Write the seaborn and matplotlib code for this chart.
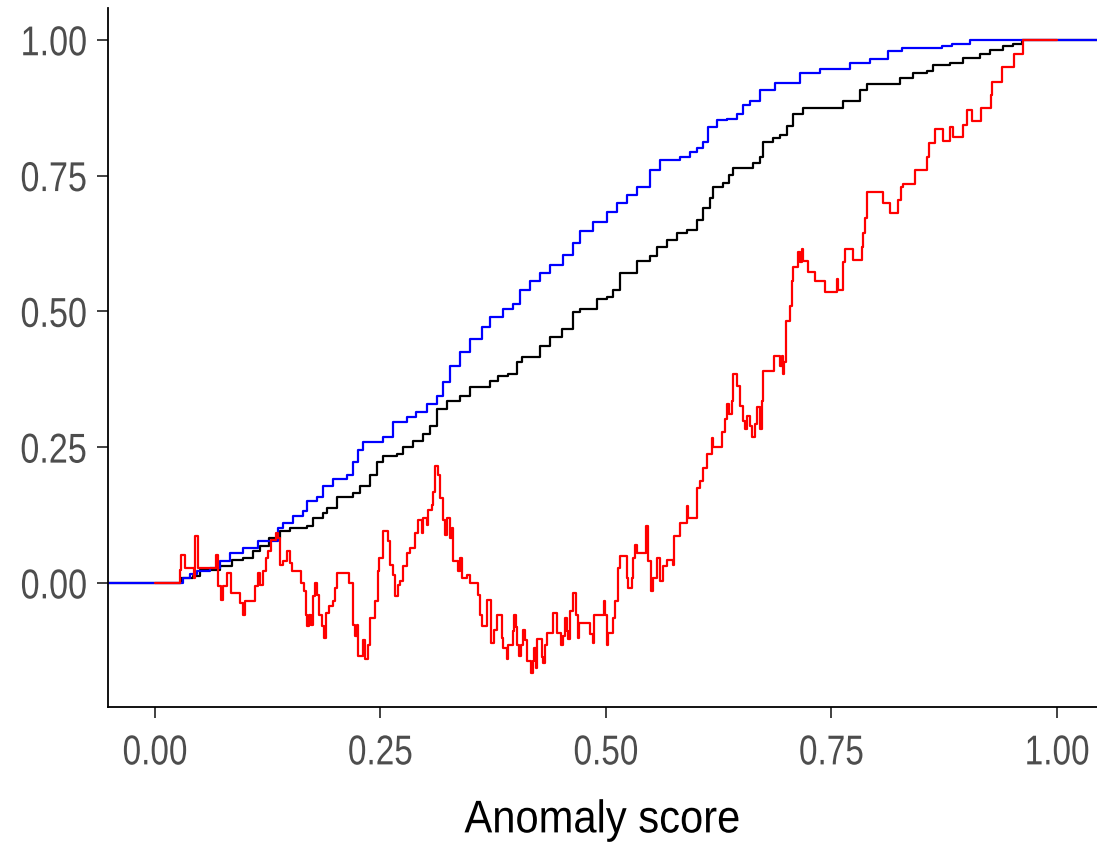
import matplotlib
matplotlib.use("Agg")
import matplotlib.pyplot as plt
import seaborn as sns
import pandas as pd
from matplotlib.patheffects import AbstractPathEffect
from matplotlib.transforms import Affine2D

# ---- data (step curves: value becomes y at x) ----
blue_x = [-0.06, 0.031, 0.039, 0.047, 0.061, 0.072, 0.083, 0.098, 0.114, 0.136, 0.142, 0.153, 0.164,
          0.169, 0.180, 0.186, 0.197, 0.213, 0.220, 0.225, 0.231, 0.253, 0.264, 0.279, 0.290, 0.302,
          0.313, 0.319, 0.327, 0.338, 0.349, 0.363, 0.371, 0.386, 0.397, 0.405, 0.416, 0.427, 0.438,
          0.452, 0.463, 0.471, 0.486, 0.501, 0.512, 0.523, 0.534, 0.549, 0.560, 0.582, 0.593, 0.601,
          0.608, 0.613, 0.623, 0.634, 0.645, 0.652, 0.660, 0.671, 0.687, 0.715, 0.737, 0.771, 0.793,
          0.813, 0.828, 0.873, 0.884, 0.904, 1.06]
blue_y = [0.0, 0.009, 0.016, 0.022, 0.027, 0.040, 0.055, 0.064, 0.077, 0.101, 0.110, 0.123, 0.132,
          0.150, 0.159, 0.178, 0.192, 0.198, 0.223, 0.244, 0.260, 0.269, 0.297, 0.306, 0.315, 0.330,
          0.344, 0.370, 0.399, 0.425, 0.449, 0.471, 0.489, 0.504, 0.513, 0.540, 0.555, 0.571, 0.586,
          0.604, 0.626, 0.647, 0.665, 0.683, 0.700, 0.714, 0.729, 0.760, 0.778, 0.784, 0.793, 0.800,
          0.811, 0.839, 0.852, 0.855, 0.864, 0.879, 0.888, 0.907, 0.921, 0.938, 0.947, 0.958, 0.965,
          0.980, 0.984, 0.989, 0.993, 1.0, 1.0]

black_x = [-0.06, 0.029, 0.042, 0.050, 0.072, 0.086, 0.098, 0.109, 0.116, 0.127, 0.139, 0.150, 0.169,
           0.175, 0.186, 0.191, 0.202, 0.220, 0.227, 0.238, 0.246, 0.253, 0.268, 0.275, 0.286, 0.297,
           0.305, 0.313, 0.324, 0.338, 0.349, 0.371, 0.380, 0.391, 0.401, 0.407, 0.427, 0.438, 0.451,
           0.463, 0.471, 0.490, 0.501, 0.508, 0.516, 0.534, 0.549, 0.557, 0.568, 0.579, 0.590, 0.601,
           0.608, 0.615, 0.619, 0.630, 0.637, 0.641, 0.663, 0.671, 0.674, 0.685, 0.693, 0.701, 0.707,
           0.718, 0.763, 0.782, 0.790, 0.826, 0.840, 0.856, 0.863, 0.881, 0.896, 0.915, 0.926, 0.940,
           0.951, 0.961, 1.06]
black_y = [0.0, 0.009, 0.013, 0.024, 0.031, 0.042, 0.046, 0.059, 0.068, 0.082, 0.095, 0.101, 0.104,
           0.119, 0.128, 0.137, 0.159, 0.165, 0.179, 0.198, 0.223, 0.233, 0.238, 0.251, 0.262, 0.275,
           0.288, 0.321, 0.335, 0.344, 0.361, 0.372, 0.381, 0.385, 0.407, 0.416, 0.436, 0.452, 0.467,
           0.498, 0.504, 0.522, 0.526, 0.540, 0.571, 0.592, 0.601, 0.619, 0.632, 0.645, 0.650, 0.668,
           0.690, 0.709, 0.729, 0.736, 0.751, 0.764, 0.773, 0.784, 0.811, 0.819, 0.824, 0.842, 0.864,
           0.875, 0.888, 0.907, 0.918, 0.930, 0.938, 0.943, 0.954, 0.958, 0.967, 0.973, 0.982, 0.989,
           0.993, 1.0, 1.0]

red_x = [0.0, 0.028, 0.029, 0.033, 0.043, 0.045, 0.048, 0.068, 0.070, 0.073, 0.075, 0.080, 0.084,
         0.094, 0.098, 0.100, 0.111, 0.114, 0.116, 0.120, 0.123, 0.125, 0.129, 0.134, 0.136, 0.139,
         0.142, 0.147, 0.150, 0.152, 0.162, 0.165, 0.167, 0.169, 0.171, 0.173, 0.175, 0.177, 0.180,
         0.182, 0.185, 0.187, 0.190, 0.193, 0.197, 0.200, 0.202, 0.215, 0.220, 0.222, 0.224, 0.225,
         0.231, 0.233, 0.236, 0.238, 0.244, 0.247, 0.249, 0.253, 0.258, 0.261, 0.264, 0.266, 0.269,
         0.272, 0.275, 0.279, 0.283, 0.288, 0.292, 0.296, 0.297, 0.302, 0.303, 0.307, 0.308, 0.310,
         0.314, 0.316, 0.319, 0.322, 0.324, 0.327, 0.329, 0.330, 0.336, 0.338, 0.341, 0.346, 0.349,
         0.358, 0.360, 0.363, 0.368, 0.373, 0.376, 0.379, 0.385, 0.386, 0.390, 0.391, 0.397, 0.398,
         0.400, 0.401, 0.404, 0.406, 0.408, 0.410, 0.412, 0.417, 0.419, 0.420, 0.422, 0.424, 0.429,
         0.430, 0.432, 0.435, 0.441, 0.446, 0.450, 0.452, 0.455, 0.457, 0.458, 0.460, 0.463, 0.467,
         0.469, 0.470, 0.482, 0.486, 0.487, 0.498, 0.499, 0.501, 0.502, 0.508, 0.510, 0.513, 0.516,
         0.523, 0.524, 0.529, 0.530, 0.532, 0.535, 0.544, 0.547, 0.550, 0.552, 0.557, 0.560, 0.563,
         0.568, 0.574, 0.576, 0.582, 0.590, 0.591, 0.601, 0.604, 0.608, 0.612, 0.618, 0.619, 0.629,
         0.632, 0.634, 0.637, 0.640, 0.641, 0.645, 0.649, 0.652, 0.654, 0.657, 0.660, 0.662, 0.665,
         0.667, 0.671, 0.673, 0.674, 0.686, 0.693, 0.695, 0.696, 0.698, 0.700, 0.704, 0.706, 0.707,
         0.713, 0.715, 0.717, 0.718, 0.724, 0.732, 0.743, 0.756, 0.757, 0.763, 0.765, 0.774, 0.784,
         0.785, 0.787, 0.789, 0.807, 0.815, 0.824, 0.827, 0.829, 0.843, 0.856, 0.858, 0.865, 0.874,
         0.882, 0.885, 0.896, 0.900, 0.906, 0.916, 0.927, 0.928, 0.939, 0.952, 0.962, 1.0]
red_y = [0.0, 0.024, 0.051, 0.027, 0.009, 0.086, 0.027, 0.051, -0.005, -0.031, -0.005, 0.018, -0.018,
         -0.037, -0.060, -0.033, -0.005, 0.018, -0.004, 0.022, 0.046, 0.059, 0.079, 0.092, 0.082, 0.033,
         0.040, 0.059, 0.037, 0.022, 0.0, -0.015, -0.059, -0.079, -0.059, -0.077, -0.024, 0.0, -0.022,
         -0.059, -0.079, -0.101, -0.055, -0.042, -0.033, -0.009, 0.018, 0.0, -0.077, -0.097, -0.077, -0.134,
         -0.106, -0.141, -0.114, -0.064, -0.033, 0.022, 0.046, 0.095, 0.077, 0.033, 0.015, -0.024, -0.004,
         0.004, 0.031, 0.055, 0.064, 0.092, 0.115, 0.092, 0.119, 0.106, 0.134, 0.143, 0.168, 0.216,
         0.198, 0.156, 0.115, 0.088, 0.119, 0.082, 0.101, 0.040, 0.022, 0.046, 0.009, 0.015, 0.0,
         -0.022, -0.059, -0.079, -0.031, -0.110, -0.086, -0.060, -0.101, -0.119, -0.141, -0.115, -0.088, -0.060,
         -0.082, -0.114, -0.134, -0.114, -0.086, -0.106, -0.143, -0.165, -0.143, -0.119, -0.156, -0.104, -0.137,
         -0.147, -0.115, -0.092, -0.055, -0.092, -0.114, -0.097, -0.064, -0.088, -0.104, -0.051, -0.018, -0.059,
         -0.101, -0.073, -0.095, -0.110, -0.059, -0.033, -0.060, -0.115, -0.092, -0.064, -0.033, 0.027, 0.049,
         0.009, -0.009, 0.009, 0.046, 0.070, 0.055, 0.104, 0.040, -0.015, 0.009, 0.046, 0.004, 0.031,
         0.042, 0.033, 0.086, 0.110, 0.141, 0.119, 0.174, 0.187, 0.211, 0.238, 0.266, 0.251, 0.278,
         0.302, 0.330, 0.311, 0.335, 0.385, 0.363, 0.326, 0.299, 0.284, 0.308, 0.288, 0.269, 0.293,
         0.324, 0.284, 0.335, 0.390, 0.418, 0.399, 0.418, 0.385, 0.407, 0.482, 0.509, 0.555, 0.582,
         0.610, 0.590, 0.614, 0.592, 0.573, 0.555, 0.535, 0.559, 0.540, 0.590, 0.614, 0.595, 0.619,
         0.645, 0.672, 0.720, 0.700, 0.681, 0.705, 0.729, 0.734, 0.760, 0.784, 0.810, 0.835, 0.813,
         0.839, 0.821, 0.844, 0.870, 0.850, 0.875, 0.899, 0.923, 0.949, 0.974, 1.0, 1.0]

x_ticks = [0.00, 0.25, 0.50, 0.75, 1.00]
y_ticks = [0.00, 0.25, 0.50, 0.75, 1.00]
x_label = "Anomaly score"


class HStretch(AbstractPathEffect):
    """Condense text horizontally (the reference uses a narrow sans font)."""

    def __init__(self, sx, anchor="center"):
        super().__init__()
        self.sx = sx
        self.anchor = anchor

    def draw_path(self, renderer, gc, tpath, affine, rgbFace=None):
        ext = tpath.get_extents(affine)
        if self.anchor == "right":
            x0 = ext.x1
        elif self.anchor == "left":
            x0 = ext.x0
        else:
            x0 = 0.5 * (ext.x0 + ext.x1)
        aff = affine + Affine2D().translate(-x0, 0).scale(self.sx, 1.0).translate(x0, 0)
        renderer.draw_path(gc, tpath, aff, rgbFace)


# ---- style ----
sns.set_theme(style="ticks")
plt.rcParams["font.family"] = ["Liberation Sans", "DejaVu Sans"]

W, H = 1097, 850
fig = plt.figure(figsize=(W / 100, H / 100), dpi=100)
ax = fig.add_axes([108 / W, (H - 707) / H, (W - 108) / W, (707 - 8) / H])

for xs, ys, col in [(black_x, black_y, "black"), (blue_x, blue_y, "blue"), (red_x, red_y, "red")]:
    assert len(xs) == len(ys)
    df = pd.DataFrame({"x": xs, "y": ys})
    sns.lineplot(data=df, x="x", y="y", ax=ax, color=col, lw=1.6,
                 drawstyle="steps-post", estimator=None, sort=False)

ax.set_xlim(-0.052, 1.0445)
ax.set_ylim(-0.2285, 1.0585)
ax.set_xticks(x_ticks)
ax.set_yticks(y_ticks)
ax.set_xticklabels([f"{v:.2f}" for v in x_ticks])
ax.set_yticklabels([f"{v:.2f}" for v in y_ticks])
ax.set_xlabel(x_label, fontsize=33, color="black", labelpad=18)
ax.set_ylabel("")

sns.despine(ax=ax)
for s in ["left", "bottom"]:
    ax.spines[s].set_linewidth(1.3)
    ax.spines[s].set_color("black")
ax.tick_params(axis="both", labelsize=30, colors="#333333", labelcolor="#4D4D4D",
               length=8, width=1.3)
ax.tick_params(axis="y", pad=7)
ax.tick_params(axis="x", pad=11)

for lbl in ax.get_xticklabels():
    lbl.set_path_effects([HStretch(0.80, "center")])
for lbl in ax.get_yticklabels():
    lbl.set_path_effects([HStretch(0.82, "right")])
ax.xaxis.label.set_path_effects([HStretch(0.91, "center")])

fig.savefig("out.png", dpi=100)
